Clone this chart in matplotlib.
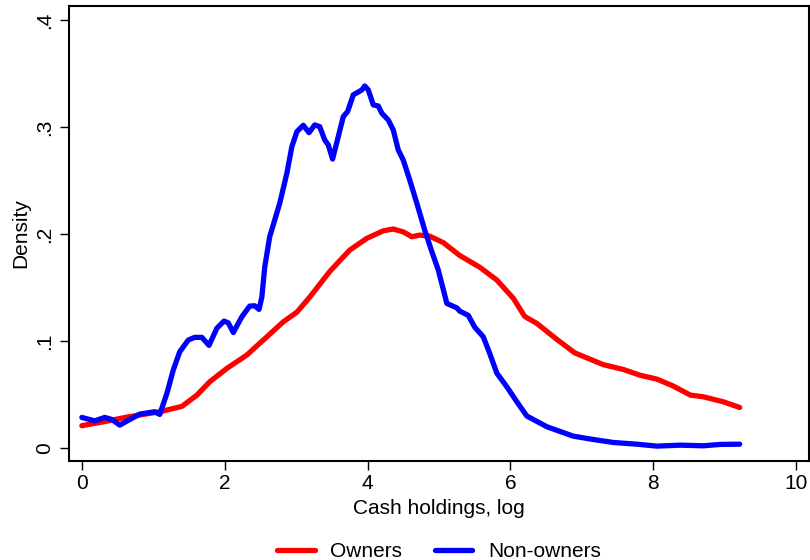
import matplotlib
matplotlib.use("Agg")
import matplotlib.pyplot as plt
from matplotlib.transforms import blended_transform_factory

plt.rcParams['font.family'] = ['Liberation Sans', 'DejaVu Sans']

# Kernel density estimates of log cash holdings
owners_x = [0.00, 0.30, 0.63, 1.09, 1.40, 1.61, 1.79, 2.03, 2.31, 2.59, 2.82, 3.01,
            3.19, 3.47, 3.75, 3.99, 4.22, 4.36, 4.50, 4.62, 4.73, 4.87, 5.06, 5.29,
            5.57, 5.81, 6.04, 6.20, 6.37, 6.65, 6.90, 7.30, 7.58, 7.82, 8.05, 8.28,
            8.52, 8.70, 8.98, 9.21]
owners_y = [0.021, 0.0246, 0.029, 0.034, 0.039, 0.0495, 0.062, 0.0745, 0.087, 0.104,
            0.118, 0.127, 0.141, 0.165, 0.185, 0.196, 0.203, 0.2047, 0.202, 0.1975,
            0.199, 0.198, 0.192, 0.180, 0.169, 0.157, 0.140, 0.123, 0.1165, 0.1016,
            0.089, 0.078, 0.0735, 0.068, 0.0645, 0.058, 0.0495, 0.048, 0.0433, 0.038]

nonowners_x = [0.00, 0.18, 0.32, 0.42, 0.53, 0.65, 0.81, 0.95, 1.02, 1.09, 1.19, 1.28,
               1.37, 1.49, 1.58, 1.68, 1.78, 1.89, 1.99, 2.05, 2.12, 2.24, 2.35, 2.42,
               2.48, 2.52, 2.56, 2.63, 2.77, 2.87, 2.94, 3.01, 3.10, 3.18, 3.26, 3.33,
               3.40, 3.45, 3.51, 3.59, 3.66, 3.72, 3.80, 3.92, 3.96, 4.01, 4.08, 4.15,
               4.20, 4.29, 4.36, 4.43, 4.50, 4.59, 4.69, 4.80, 4.90, 4.99, 5.11, 5.25,
               5.29, 5.41, 5.50, 5.62, 5.71, 5.81, 5.95, 6.09, 6.23, 6.51, 6.88, 7.16,
               7.44, 7.77, 8.05, 8.38, 8.70, 8.94, 9.21]
nonowners_y = [0.0287, 0.0255, 0.0287, 0.0268, 0.0215, 0.026, 0.0318, 0.0333, 0.034,
               0.0315, 0.051, 0.073, 0.090, 0.101, 0.1035, 0.1035, 0.096, 0.112, 0.1187,
               0.117, 0.108, 0.1227, 0.1327, 0.133, 0.1296, 0.141, 0.169, 0.1975, 0.2287,
               0.2567, 0.2816, 0.2956, 0.3016, 0.2947, 0.3019, 0.3003, 0.2879, 0.2832,
               0.270, 0.291, 0.3097, 0.3143, 0.330, 0.3346, 0.3383, 0.3346, 0.3206,
               0.3196, 0.3128, 0.3065, 0.2972, 0.2785, 0.269, 0.2505, 0.2287, 0.2037,
               0.1835, 0.1664, 0.1352, 0.131, 0.128, 0.124, 0.113, 0.104, 0.0885, 0.070,
               0.0573, 0.0433, 0.030, 0.020, 0.0112, 0.0081, 0.0053, 0.0037, 0.0019,
               0.0028, 0.0022, 0.0035, 0.0037]

x_ticks = [0, 2, 4, 6, 8, 10]
y_ticks = [0, 0.1, 0.2, 0.3, 0.4]
y_tick_labels = ["0", ".1", ".2", ".3", ".4"]

FS = 15

fig = plt.figure(figsize=(8.1, 5.6), dpi=100)
ax = fig.add_axes([69 / 810, 99 / 560, 740 / 810, 455 / 560])

ax.plot(owners_x, owners_y, color="#ff0000", lw=3.8, label="Owners",
        solid_joinstyle="round", solid_capstyle="round")
ax.plot(nonowners_x, nonowners_y, color="#0000ff", lw=3.8, label="Non-owners",
        solid_joinstyle="round", solid_capstyle="round")

ax.set_xlim(-0.18, 10.18)
ax.set_ylim(-0.012, 0.413)
ax.set_xticks(x_ticks)
ax.set_xticklabels([str(t) for t in x_ticks], fontsize=FS)
ax.set_yticks(y_ticks)
ax.set_yticklabels(y_tick_labels, fontsize=FS, rotation=90, va="center")
ax.tick_params(direction="out", length=6.5, width=1.0, pad=3, colors="black")
ax.tick_params(axis="y", pad=4)

for s in ax.spines.values():
    s.set_linewidth(1.5)

ax.set_xlabel("Cash holdings, log", fontsize=FS, labelpad=4)
ax.set_ylabel("Density", fontsize=FS, labelpad=4)

# legend sits centred under the plot region, near the bottom edge of the figure
legend_tf = blended_transform_factory(ax.transAxes, fig.transFigure)
ax.legend(loc="center", bbox_to_anchor=(0.5, 0.015), bbox_transform=legend_tf,
          ncol=2, frameon=False, fontsize=FS, handlelength=1.8,
          columnspacing=1.55, handletextpad=0.75)

fig.savefig("out.png", dpi=100, facecolor="white")
